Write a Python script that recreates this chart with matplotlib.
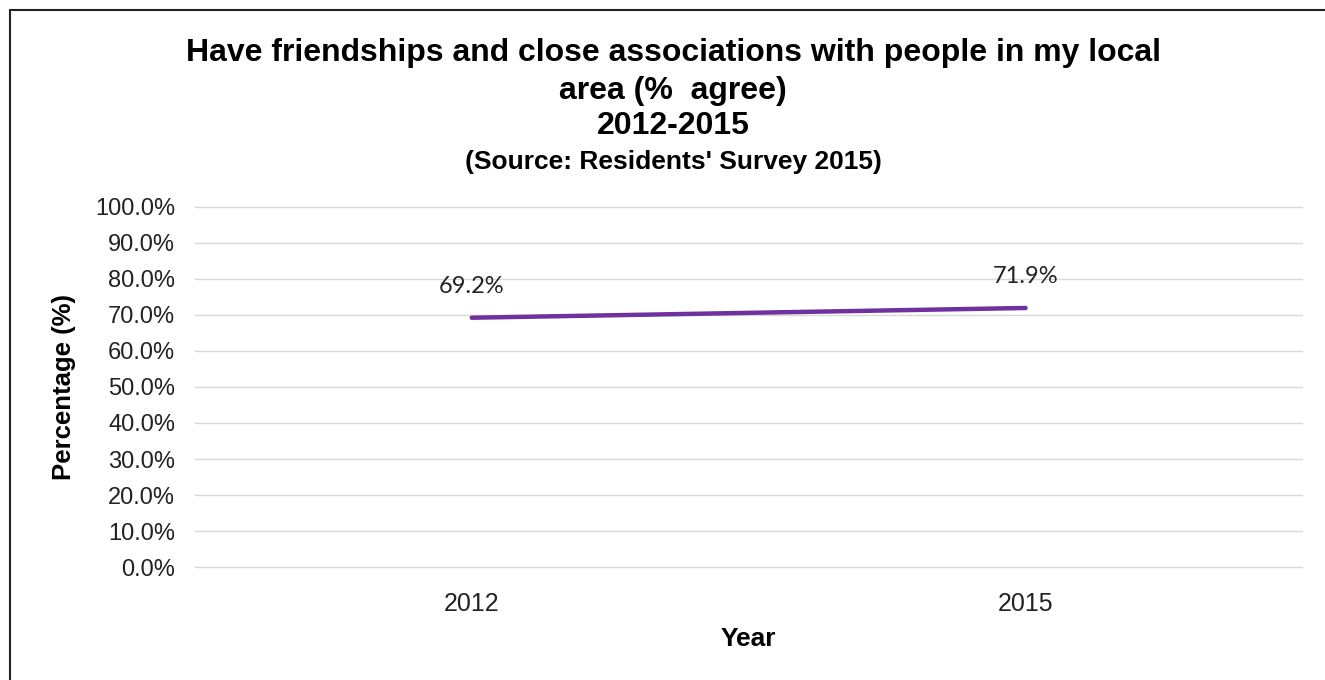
import matplotlib.pyplot as plt
from matplotlib.patches import Rectangle
from matplotlib.ticker import FuncFormatter

years = ['2012', '2015']
agree_pct = [69.2, 71.9]
y_ticks = [0, 10, 20, 30, 40, 50, 60, 70, 80, 90, 100]

plt.rcParams['font.family'] = ['Liberation Sans', 'DejaVu Sans']

fig = plt.figure(figsize=(13.25, 6.8), dpi=100)
ax = fig.add_axes([0.147, 0.166, 0.836, 0.530])

x = range(len(years))
ax.plot(x, agree_pct, color='#7030A0', lw=3.2, solid_capstyle='round')
for xi, v in zip(x, agree_pct):
    ax.annotate(f'{v:.1f}%', (xi, v), xytext=(0, 15), textcoords='offset points',
                ha='center', va='bottom', fontsize=17, family=['Lato', 'DejaVu Sans'],
                color='#222222')

ax.set_xlim(-0.5, len(years) - 0.5)
ax.set_ylim(0, 100)
ax.set_xticks(list(x))
ax.set_xticklabels(years)
ax.set_yticks(y_ticks)
ax.yaxis.set_major_formatter(FuncFormatter(lambda v, _: f'{v:.1f}%'))
ax.tick_params(length=0, labelcolor='#222222')
ax.tick_params(axis='x', labelsize=18, pad=18)
ax.tick_params(axis='y', labelsize=17, pad=14)
ax.grid(axis='y', color='#d9d9d9', lw=1)
for gl in ax.get_ygridlines():
    gl.set_clip_on(False)
ax.set_axisbelow(True)
for s in ax.spines.values():
    s.set_visible(False)

ax.set_xlabel('Year', fontsize=19, fontweight='bold', labelpad=8)
ax.set_ylabel('Percentage (%)', fontsize=18.5, fontweight='bold', labelpad=14)

# title block
fig.text(0.508, 0.922, 'Have friendships and close associations with people in my local',
         ha='center', va='center', fontsize=23, fontweight='bold')
fig.text(0.508, 0.866, 'area (%  agree)', ha='center', va='center', fontsize=23, fontweight='bold')
fig.text(0.508, 0.815, '2012-2015', ha='center', va='center', fontsize=23, fontweight='bold')
fig.text(0.508, 0.762, "(Source: Residents' Survey 2015)", ha='center', va='center',
         fontsize=19, fontweight='bold')

# outer frame
fig.patches.append(Rectangle((10 / 1325, -0.05), 1.2, 1 - 10 / 680 + 0.05,
                             transform=fig.transFigure, fill=False,
                             edgecolor='#222222', lw=1.5))

fig.savefig('out.png', dpi=100)
